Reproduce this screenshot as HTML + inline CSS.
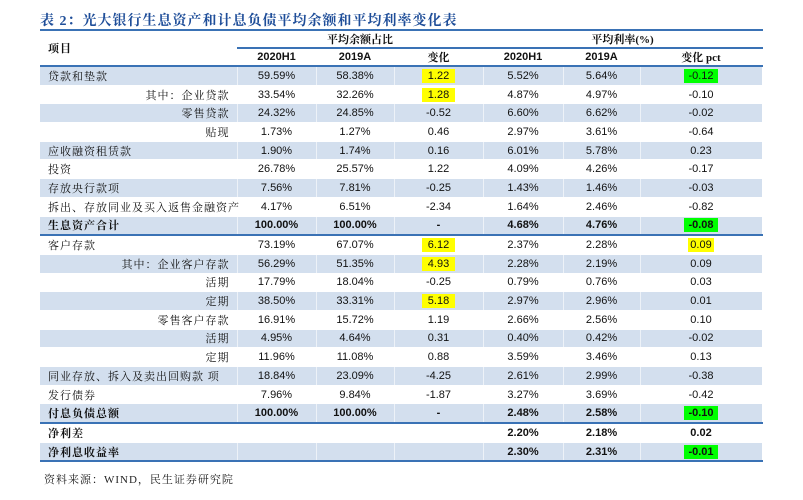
<!DOCTYPE html>
<html><head><meta charset="utf-8">
<style>
body{margin:0;width:803px;height:500px;background:#fff;position:relative;overflow:hidden;font-family:"Liberation Sans","Noto Serif CJK SC",serif;}
#title{position:absolute;left:40px;top:10px;font-size:14px;font-weight:bold;color:#1f4e99;font-family:"Liberation Serif","Noto Serif CJK SC",serif;letter-spacing:1px;white-space:nowrap;}
#tbl{position:absolute;left:40px;top:29px;width:722px;border-collapse:collapse;table-layout:fixed;font-size:11px;color:#111;}
#tbl td{height:17.7px;padding:0;border-bottom:1px solid #fff;border-right:1px solid rgba(255,255,255,0.6);text-align:center;white-space:nowrap;}
#tbl tr.s td{background:#d3dfee;}
#tbl td.l{text-align:left;padding-left:8px;font-family:"Liberation Serif","Noto Serif CJK SC",serif;letter-spacing:1px;}
#tbl td.r{text-align:right;padding-right:7px;font-family:"Liberation Serif","Noto Serif CJK SC",serif;letter-spacing:1px;}
#tbl tr.b td{font-weight:bold;}
#tbl tr.thick td{border-bottom:2px solid #3a72b5;}
.hy{background:#ffff00;padding:1px 6px;}
.hg{background:#00ff00;padding:1px 4px;}
#tbl tr.h1 td{height:12px;border-top:2px solid #3a72b5;font-weight:bold;font-family:"Liberation Serif","Noto Serif CJK SC",serif;}
#tbl tr.h1 td.g{border-bottom:2px solid #3a72b5;}
#tbl tr.h2 td{height:15px;border-bottom:2px solid #3a72b5;font-weight:bold;}
#src{position:absolute;left:44px;top:471px;font-size:11px;font-family:"Liberation Serif","Noto Serif CJK SC",serif;color:#222;letter-spacing:1px;}
</style></head><body>
<div id="title">表 2：光大银行生息资产和计息负债平均余额和平均利率变化表</div>
<table id="tbl">
<colgroup><col style="width:197px"><col style="width:79px"><col style="width:78px"><col style="width:89px"><col style="width:80px"><col style="width:77px"><col style="width:122px"></colgroup>
<tr class="h1"><td rowspan="2" class="l" style="border-bottom:2px solid #3a72b5;font-weight:bold">项目</td><td colspan="3" class="g">平均余额占比</td><td colspan="3" class="g">平均利率(%)</td></tr>
<tr class="h2"><td>2020H1</td><td>2019A</td><td style="font-family:'Liberation Serif','Noto Serif CJK SC',serif">变化</td><td>2020H1</td><td>2019A</td><td style="font-family:'Liberation Serif','Noto Serif CJK SC',serif">变化 pct</td></tr>
<tr class="s"><td class="l">贷款和垫款</td><td>59.59%</td><td>58.38%</td><td><span class="hy">1.22</span></td><td>5.52%</td><td>5.64%</td><td><span class="hg">-0.12</span></td></tr>
<tr><td class="r">其中：企业贷款</td><td>33.54%</td><td>32.26%</td><td><span class="hy">1.28</span></td><td>4.87%</td><td>4.97%</td><td>-0.10</td></tr>
<tr class="s"><td class="r">零售贷款</td><td>24.32%</td><td>24.85%</td><td>-0.52</td><td>6.60%</td><td>6.62%</td><td>-0.02</td></tr>
<tr><td class="r">贴现</td><td>1.73%</td><td>1.27%</td><td>0.46</td><td>2.97%</td><td>3.61%</td><td>-0.64</td></tr>
<tr class="s"><td class="l">应收融资租赁款</td><td>1.90%</td><td>1.74%</td><td>0.16</td><td>6.01%</td><td>5.78%</td><td>0.23</td></tr>
<tr><td class="l">投资</td><td>26.78%</td><td>25.57%</td><td>1.22</td><td>4.09%</td><td>4.26%</td><td>-0.17</td></tr>
<tr class="s"><td class="l">存放央行款项</td><td>7.56%</td><td>7.81%</td><td>-0.25</td><td>1.43%</td><td>1.46%</td><td>-0.03</td></tr>
<tr><td class="l">拆出、存放同业及买入返售金融资产</td><td>4.17%</td><td>6.51%</td><td>-2.34</td><td>1.64%</td><td>2.46%</td><td>-0.82</td></tr>
<tr class="s b thick"><td class="l">生息资产合计</td><td>100.00%</td><td>100.00%</td><td>-</td><td>4.68%</td><td>4.76%</td><td><span class="hg">-0.08</span></td></tr>
<tr><td class="l">客户存款</td><td>73.19%</td><td>67.07%</td><td><span class="hy">6.12</span></td><td>2.37%</td><td>2.28%</td><td><span class="hy" style="padding:1px 2px">0.09</span></td></tr>
<tr class="s"><td class="r">其中：企业客户存款</td><td>56.29%</td><td>51.35%</td><td><span class="hy">4.93</span></td><td>2.28%</td><td>2.19%</td><td>0.09</td></tr>
<tr><td class="r">活期</td><td>17.79%</td><td>18.04%</td><td>-0.25</td><td>0.79%</td><td>0.76%</td><td>0.03</td></tr>
<tr class="s"><td class="r">定期</td><td>38.50%</td><td>33.31%</td><td><span class="hy">5.18</span></td><td>2.97%</td><td>2.96%</td><td>0.01</td></tr>
<tr><td class="r">零售客户存款</td><td>16.91%</td><td>15.72%</td><td>1.19</td><td>2.66%</td><td>2.56%</td><td>0.10</td></tr>
<tr class="s"><td class="r">活期</td><td>4.95%</td><td>4.64%</td><td>0.31</td><td>0.40%</td><td>0.42%</td><td>-0.02</td></tr>
<tr><td class="r">定期</td><td>11.96%</td><td>11.08%</td><td>0.88</td><td>3.59%</td><td>3.46%</td><td>0.13</td></tr>
<tr class="s"><td class="l">同业存放、拆入及卖出回购款 项</td><td>18.84%</td><td>23.09%</td><td>-4.25</td><td>2.61%</td><td>2.99%</td><td>-0.38</td></tr>
<tr><td class="l">发行债券</td><td>7.96%</td><td>9.84%</td><td>-1.87</td><td>3.27%</td><td>3.69%</td><td>-0.42</td></tr>
<tr class="s b thick"><td class="l">付息负债总额</td><td>100.00%</td><td>100.00%</td><td>-</td><td>2.48%</td><td>2.58%</td><td><span class="hg">-0.10</span></td></tr>
<tr class="b"><td class="l">净利差</td><td></td><td></td><td></td><td>2.20%</td><td>2.18%</td><td>0.02</td></tr>
<tr class="s b thick"><td class="l">净利息收益率</td><td></td><td></td><td></td><td>2.30%</td><td>2.31%</td><td><span class="hg">-0.01</span></td></tr>
</table>
<div id="src">资料来源：WIND，民生证券研究院</div>
</body></html>
